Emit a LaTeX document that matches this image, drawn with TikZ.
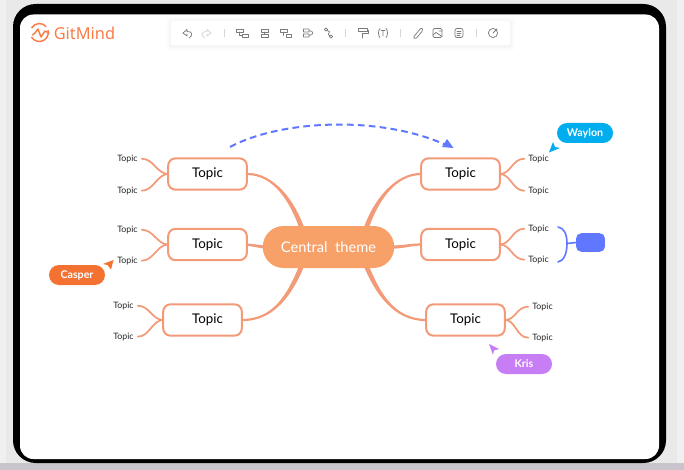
\documentclass[tikz,border=0pt]{standalone}
\usepackage{fontspec}
\setmainfont{Lato}
\newfontfamily\logofont{Noto Sans}
\usetikzlibrary{calc}
\definecolor{bgc}{HTML}{E9E9E9}
\definecolor{strip}{HTML}{C8C6CC}
\definecolor{line}{HTML}{F39A78}
\definecolor{cfill}{HTML}{F7A068}
\definecolor{rel}{HTML}{5F78FF}
\definecolor{casp}{HTML}{F37232}
\definecolor{way}{HTML}{00AEEF}
\definecolor{kri}{HTML}{C77DF3}
\definecolor{logo}{HTML}{FB7C48}
\definecolor{ico}{HTML}{7A7A7A}
\definecolor{icol}{HTML}{D4D4D4}
\tikzset{
  x=0.75pt,y=-0.75pt,
  topicbox/.style={draw=line,line width=1.5pt,fill=white,rounded corners=5.5pt,minimum width=59pt,minimum height=23.5pt,inner sep=0pt,outer sep=0pt,font=\fontsize{10}{12}\selectfont,text=black},
  subtopic/.style={inner sep=0pt,outer sep=0pt,font=\fontsize{6.6}{8}\selectfont,text=black!85},
  branch/.style={draw=line,line width=1.3pt,line cap=round},
  centre/.style={fill=cfill,rounded corners=15.5pt,minimum width=98.5pt,minimum height=31.5pt,inner sep=0pt,outer sep=0pt,text=white,font=\fontsize{11}{12}\selectfont},
  cursorlabel/.style={rounded corners=7.5pt,minimum width=42pt,minimum height=15pt,inner sep=0pt,text=white,font=\fontsize{8}{9}\selectfont\bfseries},
  icon/.style={draw=ico,line width=.55pt,line cap=round,line join=round},
  iconl/.style={draw=icol,line width=.55pt,line cap=round,line join=round},
  sep/.style={draw=icol,line width=.6pt},
}
\begin{document}
\begin{tikzpicture}
\useasboundingbox (0,0) rectangle (684,470);
\fill[bgc] (0,0) rectangle (684,470);
\fill[white,opacity=.35] (0,0) rectangle (6,463);
\fill[white,opacity=.35] (677,0) rectangle (684,463);
\fill[strip] (0,463) rectangle (684,470);
% frame
\fill[black,rounded corners=17pt] (13,4) rectangle (666,463);
\fill[white,rounded corners=10pt] (20,14.5) rectangle (659,459);
% toolbar
\foreach \o/\s in {.008/5,.012/3.5,.016/2}{\fill[black,opacity=\o,rounded corners=2pt] (171-\s,21-\s+1) rectangle (510+\s,45+\s+1);}
\fill[white,rounded corners=1.5pt] (171,21) rectangle (510,45);
% logo
\draw[logo,line width=1.1pt] (31.5,37) arc[start angle=150,end angle=-15,radius=9];
\draw[logo,line width=1.1pt] (31.5,28) arc[start angle=-150,end angle=-40,radius=9];
\draw[logo,line width=1.1pt,line join=round,line cap=round] (32.5,35) -- (35,33) -- (38,29) -- (41,37) -- (45,31) -- (49,33);
\node[anchor=west,inner sep=0pt,text=logo,font=\logofont\fontsize{12.3}{14}\selectfont\bfseries] (logotext) at (53.5,33.5) {GitMind};
% toolbar icons
\draw[icon] (183,33) -- (187,29.5) -- (187,31.5) .. controls (193,31) and (193,36) .. (189,38);
\draw[icon] (183,33) -- (187,36) -- (187,34);
\draw[iconl] (211,33) -- (207,29.5) -- (207,31.5) .. controls (201,31) and (201,36) .. (205,38);
\draw[iconl] (211,33) -- (207,36) -- (207,34);
\draw[sep] (224,29) -- (224,37);
\draw[icon] (236.5,29) rectangle (243,32) (239,32) -- (239,35.5) -- (242,35.5) (242,34) rectangle (248.5,37);
\draw[icon] (261,29) rectangle (268,32) (261,34.5) rectangle (268,37) (264.5,32) -- (264.5,34.5);
\draw[icon] (280,29) rectangle (287,32) (283,32) -- (283,35.5) (286,34) rectangle (291,37);
\draw[icon] (303.5,29) rectangle (309,32) (303.5,34) rectangle (309,37) (309,30.5) .. controls (314,31) and (314,35) .. (309,35.5);
\draw[icon] (326,29.5) circle[radius=1.6] (331,36.5) circle[radius=1.6] (327.5,30.5) .. controls (333,32) and (325,34) .. (330,36);
\draw[sep] (345.5,29) -- (345.5,37);
\draw[icon] (358.5,28.5) rectangle (367.5,31.5) (367.5,30) -- (368.5,30) -- (368.5,33.5) -- (362.5,33.5) -- (362.5,38);
\draw[icon] (380,28.5) .. controls (378,30) and (378,36) .. (380,37.5) (386,28.5) .. controls (388,30) and (388,36) .. (386,37.5) (381,30.5) -- (385,30.5) (383,30.5) -- (383,36);
\draw[sep] (400,29) -- (400,37);
\draw[icon] (414,36.5) -- (420,29) .. controls (422,27) and (424,30) .. (422,31.5) -- (416.5,38) .. controls (414.5,39.5) and (412.5,38) .. (414,36.5);
\draw[icon,rounded corners=1pt] (433,28.5) rectangle (442,37.5);
\draw[icon] (433,35) -- (436,32.5) -- (442,36.5) (439,31) -- (442,31);
\draw[icon,rounded corners=1.5pt] (455,28.5) rectangle (463,37.5);
\draw[icon] (457,31) -- (461,31) (457,33) -- (461,33) (457,35) -- (460,35);
\draw[sep] (476,29) -- (476,37);
\draw[icon] (493,33) circle[radius=4.6] (493,33) -- (497,29);
% trunks, tapered towards the topics; drawn first so nodes cover their ends
\coordinate (tlp) at (247.5,174);
\coordinate (blp) at (242.5,320);
\coordinate (trp) at (421,174);
\coordinate (brp) at (426,320);
\fill[line] ($(tlp)+(0,-1.1)$) .. controls +(26,0) and +(-10,-30) .. (305,230) -- (300.5,231.5) .. controls +(-10,-30) and +(26,0) .. ($(tlp)+(0,1.1)$) -- cycle;
\fill[line] ($(trp)+(0,-1.1)$) .. controls +(-26,0) and +(10,-30) .. (363,230) -- (367.5,231.5) .. controls +(10,-30) and +(-26,0) .. ($(trp)+(0,1.1)$) -- cycle;
\fill[line] ($(blp)+(0,1.1)$) .. controls +(32,0) and +(-12,30) .. (305,264) -- (300.5,262.5) .. controls +(-12,30) and +(32,0) .. ($(blp)+(0,-1.1)$) -- cycle;
\fill[line] ($(brp)+(0,1.1)$) .. controls +(-32,0) and +(12,30) .. (363,264) -- (367.5,262.5) .. controls +(12,30) and +(-32,0) .. ($(brp)+(0,-1.1)$) -- cycle;
% nodes
\node[centre] (cc) at (328.5,247) {Central\hspace{.25em} theme};
\node[topicbox] (tl) at (207.5,174) {Topic};
\node[topicbox] (ml) at (207.5,244.5) {Topic};
\node[topicbox] (bl) at (202.5,320) {\hspace{7.5pt}Topic};
\node[topicbox] (tr) at (460.5,174) {Topic};
\node[topicbox] (mr) at (460.5,244.5) {Topic};
\node[topicbox] (br) at (465.5,320) {Topic};
\node[subtopic] (tl1) at (127.5,158.7) {Topic};
\node[subtopic] (tl2) at (127.5,190.7) {Topic};
\node[subtopic] (ml1) at (127.5,229.7) {Topic};
\node[subtopic] (ml2) at (127.5,260.7) {Topic};
\node[subtopic] (bl1) at (123.5,305.7) {Topic};
\node[subtopic] (bl2) at (123.5,336.7) {Topic};
\node[subtopic] (tr1) at (538.5,158.7) {Topic};
\node[subtopic] (tr2) at (538.5,190.7) {Topic};
\node[subtopic] (mr1) at (538.5,228.7) {Topic};
\node[subtopic] (mr2) at (538.5,259.7) {Topic};
\node[subtopic] (br1) at (542.5,306.7) {Topic};
\node[subtopic] (br2) at (542.5,337.7) {Topic};
% branches
\foreach \p/\a/\b in {tl/tl1/tl2,ml/ml1/ml2,bl/bl1/bl2}{
  \draw[branch] (\p.west) .. controls +(-11,0) and +(12,0) .. ($(\a.east)+(4,0)$);
  \draw[branch] (\p.west) .. controls +(-11,0) and +(12,0) .. ($(\b.east)+(4,0)$);
}
\foreach \p/\a/\b in {tr/tr1/tr2,mr/mr1/mr2,br/br1/br2}{
  \draw[branch] (\p.east) .. controls +(11,0) and +(-12,0) .. ($(\a.west)+(-4,0)$);
  \draw[branch] (\p.east) .. controls +(11,0) and +(-12,0) .. ($(\b.west)+(-4,0)$);
}
% straight trunks
\fill[line] ($(ml.east)+(0,-1.1)$) -- ($(cc.west)+(1,-1.6)$) -- ($(cc.west)+(1,1.6)$) -- ($(ml.east)+(0,1.1)$) -- cycle;
\fill[line] ($(mr.west)+(0,-1.1)$) .. controls +(-10,0) and +(10,0) .. ($(cc.east)+(-1,-1.6)$) -- ($(cc.east)+(-1,1.6)$) .. controls +(10,0) and +(-10,0) .. ($(mr.west)+(0,1.1)$) -- cycle;
% relation
\coordinate (rs) at (230,147);
\coordinate (re) at (446,145);
\draw[rel,line width=1.5pt,dash pattern=on 5pt off 3.2pt] (rs) .. controls (280,120) and (380,115) .. (re);
\fill[rel] (447,139) -- (453.5,148) -- (442,147) -- cycle;
% boundary
\coordinate (bt) at (558,227);
\coordinate (bb) at (558,262);
\coordinate (bm) at (567,243.5);
\node[fill=rel,rounded corners=4pt,minimum width=21.7pt,minimum height=14pt,inner sep=0pt,outer sep=0pt] (sm) at (590.5,242.5) {};
\draw[rel,line width=1.2pt,line cap=round] (bt) .. controls (564,228) and (567,234) .. (bm) .. controls (567,253) and (564,261) .. (bb);
\draw[rel,line width=1.2pt] (bm) -- (sm.west);
% cursors
\node[cursorlabel,fill=casp] (casper) at (77,275) {Casper};
\fill[casp] (113.5,260) -- (103,264) -- (107.5,265) -- (111,269.5) -- cycle;
\node[cursorlabel,fill=way] (waylon) at (585,133) {Waylon};
\fill[way] (549,152.5) -- (553,142) -- (555,147) -- (560,148) -- cycle;
\node[cursorlabel,fill=kri] (kris) at (524,364) {Kris};
\fill[kri] (489,344) -- (499,349) -- (494,350.5) -- (493,355) -- cycle;
\end{tikzpicture}
\end{document}
